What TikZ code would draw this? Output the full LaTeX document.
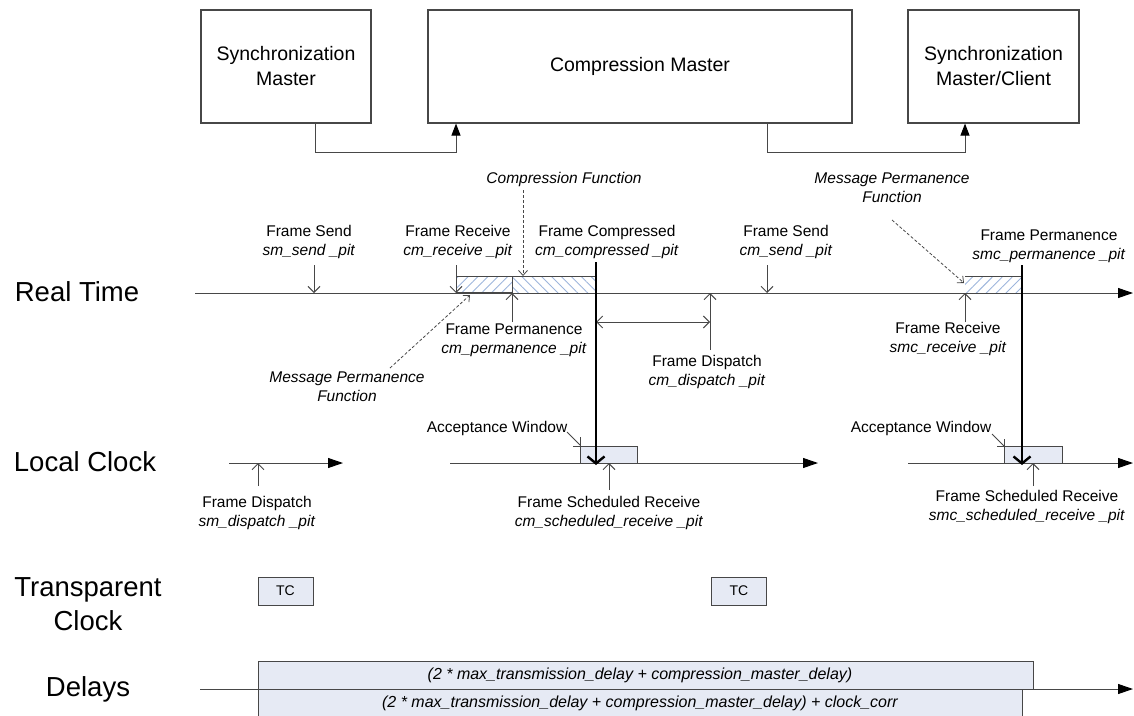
\documentclass[tikz,border=0pt]{standalone}
\usepackage{fontspec}
\setmainfont{Liberation Sans}
\usetikzlibrary{arrows.meta,patterns.meta}
\definecolor{edge}{HTML}{474747}
\definecolor{winfill}{HTML}{E6EAF4}
\definecolor{hatch}{HTML}{9DB5DC}
\begin{document}
\begin{tikzpicture}[x=1pt,y=-1pt,
  block/.style={draw=edge, line width=1.1pt, align=center,
    font=\fontsize{19.5}{25}\selectfont, inner sep=0},
  link/.style={draw=edge, line width=1pt, -{Triangle[length=12pt,width=9pt,color=black]}},
  axis/.style={draw=edge, line width=1pt, -{Triangle[length=15pt,width=10pt,color=black]}},
  tick/.style={draw=edge, line width=1pt, -{Straight Barb[length=6pt,width=12pt]}},
  span/.style={draw=edge, line width=1pt, {Straight Barb[length=6pt,width=12pt]}-{Straight Barb[length=6pt,width=12pt]}},
  heavy/.style={draw=black, line width=2.4pt, -{Straight Barb[length=7pt,width=17pt,line width=2.4pt]}},
  lead/.style={draw=edge, line width=0.8pt, dash pattern=on 3pt off 2pt, -{Straight Barb[length=5pt,width=9pt]}},
  lab/.style={font=\fontsize{15.5}{19}\selectfont, align=center, inner sep=0},
  side/.style={font=\fontsize{27.5}{34}\selectfont, align=center, inner sep=0},
  tcbox/.style={draw=edge, line width=1pt, fill=winfill, minimum width=55pt, minimum height=28pt,
    inner sep=0, font=\fontsize{14}{14}\selectfont},
  delaytext/.style={font=\fontsize{16}{18}\selectfont\itshape, inner sep=0},
  hatchL/.style={pattern={Lines[angle=45,distance=7pt,line width=0.9pt]}, pattern color=hatch},
  hatchR/.style={pattern={Lines[angle=-45,distance=7pt,line width=0.9pt]}, pattern color=hatch},
]
\useasboundingbox (0,0) rectangle (1134,715);

% ---- participants ----
\node[block, minimum width=170pt, minimum height=113pt] (sm)  at (286,66.5) {Synchronization\\Master};
\node[block, minimum width=424pt, minimum height=113pt] (cm)  at (640,66.5) {Compression Master};
\node[block, minimum width=171pt, minimum height=113pt] (smc) at (993.5,66.5) {Synchronization\\Master/Client};
\draw[link] ([xshift=29pt]sm.south) -- ++(0,29) -| ([xshift=-184pt]cm.south);
\draw[link] ([xshift=127pt]cm.south) -- ++(0,29) -| ([xshift=-28.5pt]smc.south);

% ---- row titles ----
\node[side] (rt) at (77,292) {Real Time};
\node[side] (lc) at (85,462) {Local Clock};
\node[side] (tc) at (88,604) {Transparent\\Clock};
\node[side] (dl) at (88,689) {Delays};

% ---- real time axis ----
\coordinate (rtA) at (195,293);
\coordinate (rtB) at (1133,293);

% hatched spans
\fill[hatchL] (456,276) rectangle (512,293);
\fill[hatchR] (512,276) rectangle (596,293);
\fill[hatchL] (965,276) rectangle (1022,293);
\draw[axis] (rtA) -- (rtB);
\draw[edge, line width=1pt] (456,276) -- (596,276);
\draw[edge, line width=1pt] (512,276) -- (512,293);
\draw[edge, line width=1.7pt] (456,293) -- (512,293);
\draw[edge, line width=1pt] (965,276) -- (1022,276);

% labels above the axis
\node[lab] (fs1) at (309,241.5) {Frame Send\\\textit{sm\_send \_pit}};
\coordinate (fs1t) at (314,265); \coordinate (fs1h) at (314,293);
\draw[tick] (fs1t) -- (fs1h);

\node[lab] (fr1) at (458,241.5) {Frame Receive\\\textit{cm\_receive \_pit}};
\coordinate (fr1t) at (456,265); \coordinate (fr1h) at (456,293);
\draw[tick] (fr1t) -- (fr1h);

\node[lab] (fc) at (607,241.5) {Frame Compressed\\\textit{cm\_compressed \_pit}};

\node[lab, font=\fontsize{15.5}{19}\selectfont\itshape] (cf) at (564,179) {Compression Function};
\coordinate (cft) at (523,190); \coordinate (cfh) at (523,276);
\draw[lead] (cft) -- (cfh);

\node[lab] (fs2) at (786,241.5) {Frame Send\\\textit{cm\_send \_pit}};
\coordinate (fs2t) at (767,265); \coordinate (fs2h) at (767,293);
\draw[tick] (fs2t) -- (fs2h);

\node[lab, font=\fontsize{15.5}{19}\selectfont\itshape] (mpf2) at (892,187.5) {Message Permanence\\Function};
\coordinate (mpf2t) at (892,220); \coordinate (mpf2h) at (964,283);
\draw[lead] (mpf2t) -- (mpf2h);

\node[lab] (fp2) at (1049,246.5) {Frame Permanence\\\textit{smc\_permanence \_pit}};

% labels below the axis
\node[lab] (fp1) at (514,340) {Frame Permanence\\\textit{cm\_permanence \_pit}};
\coordinate (fp1t) at (512,322); \coordinate (fp1h) at (512,293);
\draw[tick] (fp1t) -- (fp1h);

\node[lab, font=\fontsize{15.5}{19}\selectfont\itshape] (mpf1) at (347,386.5) {Message Permanence\\Function};
\coordinate (mpf1t) at (390,368); \coordinate (mpf1h) at (470,295);
\draw[lead] (mpf1t) -- (mpf1h);

\node[lab] (fd1) at (707,371.5) {Frame Dispatch\\\textit{cm\_dispatch \_pit}};
\coordinate (fd1t) at (710,350); \coordinate (fd1h) at (710,293);
\draw[tick] (fd1t) -- (fd1h);
\coordinate (spA) at (596,322); \coordinate (spB) at (710,322);
\draw[span] (spA) -- (spB);

\node[lab] (fr2) at (948,338.5) {Frame Receive\\\textit{smc\_receive \_pit}};
\coordinate (fr2t) at (965,322); \coordinate (fr2h) at (965,293);
\draw[tick] (fr2t) -- (fr2h);

% ---- local clock axis ----
\coordinate (lc1a) at (229,463); \coordinate (lc1b) at (343,463);
\coordinate (lc2a) at (450,463); \coordinate (lc2b) at (818,463);
\coordinate (lc3a) at (908,463); \coordinate (lc3b) at (1133,463);

% acceptance windows
\fill[winfill] (580,446) rectangle (637,463);
\draw[edge, line width=1pt] (573,446) -- (637,446) -- (637,463);
\draw[edge, line width=1pt] (580,437) -- (580,463);
\fill[winfill] (1004,446) rectangle (1062,463);
\draw[edge, line width=1pt] (997,446) -- (1062,446) -- (1062,463);
\draw[edge, line width=1pt] (1004,439) -- (1004,463);

\draw[axis] (lc1a) -- (lc1b);
\draw[axis] (lc2a) -- (lc2b);
\draw[axis] (lc3a) -- (lc3b);

\node[lab] (aw1) at (497,428) {Acceptance Window};
\coordinate (aw1t) at (567,432); \coordinate (aw1h) at (580,445);
\draw[edge, line width=0.8pt] (aw1t) -- (aw1h);
\node[lab] (aw2) at (921,428) {Acceptance Window};
\coordinate (aw2t) at (992,434); \coordinate (aw2h) at (1004,446);
\draw[edge, line width=0.8pt] (aw2t) -- (aw2h);

\node[lab] (fd0) at (257,512.5) {Frame Dispatch\\\textit{sm\_dispatch \_pit}};
\coordinate (fd0t) at (258,486); \coordinate (fd0h) at (258,463);
\draw[tick] (fd0t) -- (fd0h);

\node[lab] (sr1) at (609,512.5) {Frame Scheduled Receive\\\textit{cm\_scheduled\_receive \_pit}};
\coordinate (sr1t) at (609,490); \coordinate (sr1h) at (609,463);
\draw[tick] (sr1t) -- (sr1h);

\node[lab] (sr2) at (1027,507) {Frame Scheduled Receive\\\textit{smc\_scheduled\_receive \_pit}};
\coordinate (sr2t) at (1033,486); \coordinate (sr2h) at (1033,463);
\draw[tick] (sr2t) -- (sr2h);

% compressed frame forwarded to the local clocks
\coordinate (cmt) at (596,262); \coordinate (cmh) at (596,465);
\draw[heavy] (cmt) -- (cmh);
\coordinate (smct) at (1022,265); \coordinate (smch) at (1022,465);
\draw[heavy] (smct) -- (smch);

% ---- transparent clocks ----
\node[tcbox] (tc1) at (285.5,591) {TC};
\node[tcbox] (tc2) at (739,591) {TC};

% ---- delays ----
\draw[edge, line width=1pt, fill=winfill] (258,661) rectangle (1033,689);
\draw[edge, line width=1pt, fill=winfill] (258,689) rectangle (1022,716);
\node[delaytext] (d1) at (640,675) {(2 * max\_transmission\_delay + compression\_master\_delay)};
\node[delaytext] (d2) at (640,703) {(2 * max\_transmission\_delay + compression\_master\_delay) + clock\_corr};
\coordinate (dlA) at (200,689); \coordinate (dlB) at (1133,689);
\draw[axis] (dlA) -- (dlB);
\end{tikzpicture}
\end{document}
